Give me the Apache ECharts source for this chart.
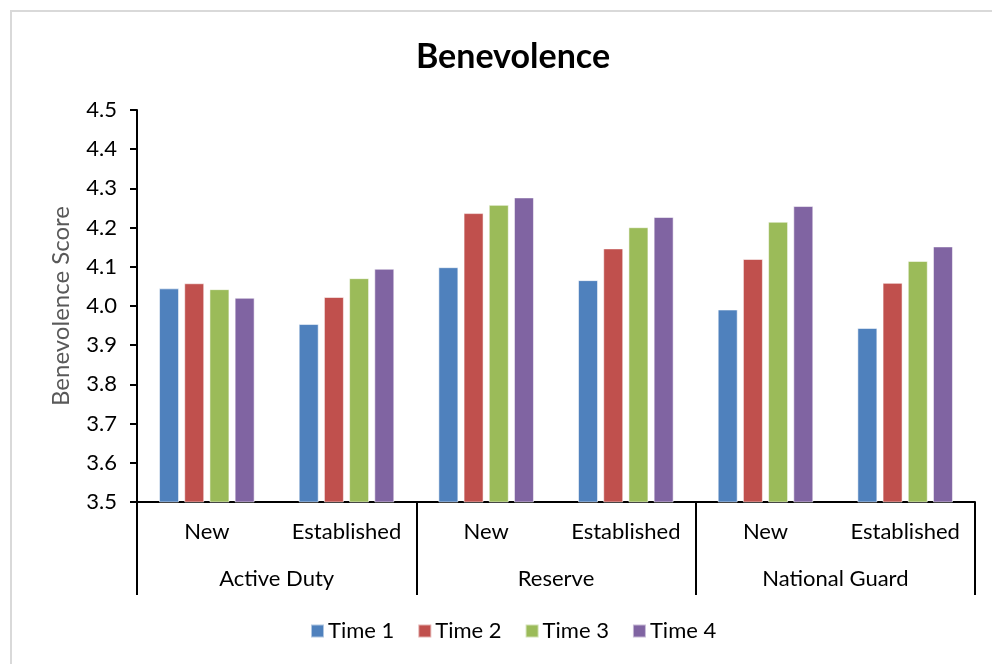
<!DOCTYPE html>
<html>
<head>
<meta charset="utf-8">
<title>Benevolence</title>
<script src="https://cdn.jsdelivr.net/npm/echarts@6/dist/echarts.min.js"></script>
<style>
  html, body { margin: 0; padding: 0; background: #fff; }
  #chart { width: 992px; height: 664px; }
</style>
</head>
<body>
<div id="chart"></div>
<script>
// Sub-categories (tenure) and their parent component groups
const subCategories = ['New', 'Established', 'New', 'Established', 'New', 'Established'];
const groups = ['Active Duty', 'Reserve', 'National Guard'];
const seriesNames = ['Time 1', 'Time 2', 'Time 3', 'Time 4'];

// Mean benevolence scores per sub-category, one array per time point
const time1 = [4.045, 3.954, 4.099, 4.066, 3.991, 3.944];
const time2 = [4.058, 4.023, 4.237, 4.147, 4.120, 4.059];
const time3 = [4.043, 4.071, 4.258, 4.201, 4.215, 4.115];
const time4 = [4.021, 4.095, 4.277, 4.227, 4.255, 4.152];

const colors = ['#4F81BD', '#C0504D', '#9BBB59', '#8064A2'];
const font = 'Lato, "Liberation Sans", sans-serif';

const chart = echarts.init(document.getElementById('chart'), null, { renderer: 'canvas' });

const seriesData = [time1, time2, time3, time4];

chart.setOption({
  backgroundColor: '#fff',
  animation: false,
  color: colors,
  title: {
    text: 'Benevolence',
    top: 35,
    left: 508,
    textAlign: 'center',
    textStyle: { fontFamily: font, fontSize: 34, fontWeight: 'bold', color: '#000' }
  },
  graphic: [{
    type: 'rect',
    shape: { x: 11, y: 11, width: 1000, height: 700 },
    style: { fill: 'none', stroke: '#d9d9d9', lineWidth: 2 },
    silent: true
  }],
  legend: {
    data: seriesNames,
    bottom: 17,
    left: 305,
    icon: 'rect',
    itemWidth: 13,
    itemHeight: 13,
    itemGap: 23,
    textStyle: { fontFamily: font, fontSize: 22, color: '#000', padding: [0, 0, 0, -1] }
  },
  grid: { left: 137, right: 17, top: 110, bottom: 162, containLabel: false },
  xAxis: [
    {
      type: 'category',
      data: subCategories,
      position: 'bottom',
      axisLine: { show: true, lineStyle: { color: '#000', width: 2 } },
      axisTick: { show: false },
      axisLabel: { fontFamily: font, fontSize: 22, color: '#000', margin: 19, interval: 0 }
    },
    {
      type: 'category',
      data: groups,
      position: 'bottom',
      axisLine: { show: false },
      axisTick: { show: true, length: 93, lineStyle: { color: '#000', width: 2 } },
      axisLabel: { fontFamily: font, fontSize: 22, color: '#000', margin: 66, interval: 0 }
    }
  ],
  yAxis: {
    type: 'value',
    min: 3.5,
    max: 4.5,
    interval: 0.1,
    name: 'Benevolence Score',
    nameLocation: 'middle',
    nameGap: 64,
    nameTextStyle: { fontFamily: font, fontSize: 24, color: '#595959' },
    axisLine: { show: true, lineStyle: { color: '#000', width: 2 } },
    axisTick: { show: true, length: 7, lineStyle: { color: '#000', width: 2 } },
    axisLabel: {
      fontFamily: font, fontSize: 22, color: '#000', margin: 20,
      formatter: v => v.toFixed(1)
    },
    splitLine: { show: false }
  },
  series: seriesNames.map((name, i) => ({
    name,
    type: 'bar',
    xAxisIndex: 0,
    data: seriesData[i],
    barWidth: 20,
    barGap: '26%',
    itemStyle: { color: colors[i], borderColor: 'rgba(255,255,255,0.55)', borderWidth: 1 }
  }))
});
</script>
</body>
</html>
